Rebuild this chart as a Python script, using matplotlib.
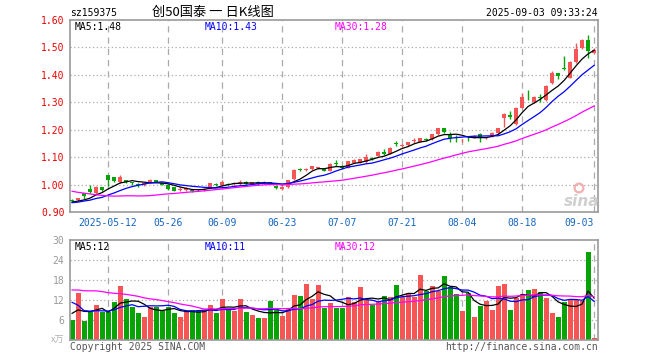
import matplotlib
matplotlib.use('Agg')
import matplotlib.pyplot as plt
import numpy as np
import pandas as pd

# ---------------- data ----------------
opens = [0.945, 0.942, 0.968, 0.985, 0.970, 0.990, 1.034, 1.026, 1.010, 1.016,
         1.008, 1.003, 1.000, 1.009, 1.015, 1.006, 0.998, 0.990, 0.982, 0.982,
         0.982, 0.981, 0.980, 0.989, 1.003, 0.998, 1.002, 1.001, 1.002, 1.010,
         1.003, 1.010, 1.004, 1.009, 0.995, 0.984, 0.990, 1.020, 1.057, 1.054,
         1.056, 1.060, 1.057, 1.050, 1.080, 1.068, 1.061, 1.080, 1.080, 1.083,
         1.097, 1.105, 1.118, 1.113, 1.150, 1.140, 1.145, 1.158, 1.156, 1.167,
         1.165, 1.184, 1.205, 1.185, 1.175, 1.161, 1.175, 1.170, 1.185, 1.169,
         1.175, 1.188, 1.244, 1.255, 1.220, 1.280, 1.320, 1.300, 1.318, 1.310,
         1.370, 1.405, 1.426, 1.390, 1.448, 1.497, 1.528, 1.480]
closes = [0.940, 0.950, 0.960, 0.973, 0.990, 0.981, 1.016, 1.014, 1.028, 1.010,
          1.004, 0.998, 1.004, 1.016, 1.010, 1.000, 0.984, 0.977, 0.985, 0.986,
          0.978, 0.979, 0.985, 1.004, 0.998, 1.010, 1.000, 1.007, 1.010, 1.002,
          1.008, 1.003, 1.010, 1.005, 0.988, 0.990, 1.016, 1.053, 1.053, 1.056,
          1.067, 1.062, 1.050, 1.075, 1.074, 1.062, 1.085, 1.090, 1.092, 1.100,
          1.093, 1.120, 1.112, 1.134, 1.147, 1.145, 1.155, 1.161, 1.168, 1.164,
          1.184, 1.205, 1.190, 1.168, 1.172, 1.164, 1.172, 1.178, 1.170, 1.171,
          1.188, 1.205, 1.258, 1.248, 1.280, 1.320, 1.318, 1.320, 1.315, 1.360,
          1.405, 1.395, 1.423, 1.448, 1.495, 1.528, 1.488, 1.490]
highs = [0.948, 0.952, 0.970, 0.998, 0.995, 0.992, 1.036, 1.028, 1.035, 1.018,
         1.010, 1.005, 1.006, 1.022, 1.017, 1.008, 1.000, 0.992, 0.990, 0.990,
         0.984, 0.983, 0.988, 1.006, 1.006, 1.016, 1.005, 1.010, 1.016, 1.012,
         1.010, 1.012, 1.012, 1.011, 0.997, 0.993, 1.018, 1.055, 1.060, 1.060,
         1.069, 1.064, 1.060, 1.077, 1.088, 1.072, 1.087, 1.093, 1.095, 1.110,
         1.100, 1.123, 1.128, 1.136, 1.160, 1.148, 1.157, 1.168, 1.170, 1.168,
         1.186, 1.208, 1.207, 1.192, 1.180, 1.166, 1.177, 1.180, 1.187, 1.173,
         1.190, 1.208, 1.260, 1.268, 1.282, 1.335, 1.345, 1.322, 1.330, 1.362,
         1.413, 1.407, 1.470, 1.450, 1.515, 1.530, 1.545, 1.497]
lows = [0.936, 0.940, 0.949, 0.970, 0.965, 0.978, 0.994, 1.010, 1.005, 1.006,
        1.000, 0.990, 0.995, 1.006, 1.008, 0.998, 0.982, 0.975, 0.978, 0.978,
        0.972, 0.976, 0.978, 0.987, 0.996, 0.996, 0.997, 0.999, 1.000, 1.000,
        1.001, 1.000, 1.002, 1.003, 0.985, 0.980, 0.988, 1.017, 1.050, 1.048,
        1.054, 1.055, 1.048, 1.048, 1.068, 1.058, 1.059, 1.077, 1.078, 1.080,
        1.090, 1.103, 1.108, 1.111, 1.140, 1.137, 1.140, 1.150, 1.154, 1.160,
        1.163, 1.182, 1.188, 1.157, 1.155, 1.155, 1.160, 1.168, 1.155, 1.166,
        1.173, 1.186, 1.210, 1.238, 1.218, 1.278, 1.308, 1.298, 1.302, 1.305,
        1.368, 1.385, 1.418, 1.388, 1.445, 1.495, 1.460, 1.478]
volumes = [6.0, 14.2, 5.8, 8.5, 10.5, 8.5, 8.5, 11.5, 16.2, 12.3,
           10.0, 8.2, 7.0, 10.0, 10.0, 9.0, 10.0, 8.2, 7.0, 8.5,
           9.0, 9.0, 9.0, 10.5, 8.2, 12.3, 9.5, 8.7, 12.3, 8.5,
           7.5, 6.5, 6.5, 11.7, 9.0, 7.2, 9.7, 13.5, 13.2, 16.8,
           12.3, 16.5, 9.7, 11.0, 9.7, 9.7, 12.8, 11.5, 16.0, 12.0,
           10.5, 11.5, 13.2, 13.0, 16.5, 13.0, 14.2, 13.0, 19.5, 14.7,
           16.2, 14.7, 19.2, 15.8, 13.8, 8.7, 14.2, 6.8, 10.2, 11.7,
           9.0, 16.2, 16.8, 9.0, 12.5, 13.8, 15.0, 15.3, 14.4, 12.6,
           8.1, 6.8, 11.4, 12.0, 12.0, 11.7, 26.4, 0.7]
# estimated earlier sessions (off-chart) needed for the moving averages
prior_closes = [1.07, 1.05, 1.06, 1.08, 1.05, 1.06, 1.05,
                1.01, 0.99, 1.00, 1.02, 0.99, 0.99,
                0.95, 0.93, 0.92, 0.94, 0.92, 0.93, 0.92,
                0.93, 0.92, 0.94, 0.93, 0.94, 0.93, 0.94, 0.94, 0.93]
prior_volumes = [14, 13, 9, 11, 15, 18, 17, 20, 18, 19, 17, 21, 19, 16, 18, 20, 17, 19, 18, 18,
                 23, 22, 10, 9, 9, 9, 8, 9, 8]

tick_idx = [6, 16, 25, 35, 45, 55, 65, 75, 87]
tick_labels = ['2025-05-12', '05-26', '06-09', '06-23', '07-07', '07-21', '08-04', '08-18', '09-03']
price_ticks = [0.90, 1.00, 1.10, 1.20, 1.30, 1.40, 1.50, 1.60]
vol_ticks = [6, 12, 18, 24, 30]
ma_windows = [5, 10, 30]
ma_colors = ['#000000', '#0000ff', '#ff00ff']
price_ma_labels = ['MA5:1.48', 'MA10:1.43', 'MA30:1.28']
vol_ma_labels = ['MA5:12', 'MA10:11', 'MA30:12']
code_text = 'sz159375'
title_text = '创50国泰 一 日K线图'
time_text = '2025-09-03 09:33:24'

# ---------------- figure ----------------
W, H = 660, 360
fig = plt.figure(figsize=(6.6, 3.6), dpi=100)
fig.patch.set_facecolor('white')

def ax_rect(l, t, r, b):
    return [l / W, 1 - b / H, (r - l) / W, (b - t) / H]

ax = fig.add_axes(ax_rect(70, 20, 598, 212))
axv = fig.add_axes(ax_rect(70, 240, 598, 340))

RED = '#f65555'
GREEN = '#07a307'
GRID = '#aaaaaa'
SPINE = '#999999'
MONO = 'DejaVu Sans Mono'

n = len(closes)
x = np.arange(n)
o = np.array(opens); c = np.array(closes); h = np.array(highs); l = np.array(lows)
up = c >= o
cols = np.where(up, RED, GREEN)

all_c = pd.Series(prior_closes + closes)
all_v = pd.Series(prior_volumes + volumes)
k = len(prior_closes)

for a in (ax, axv):
    for s in a.spines.values():
        s.set_color(SPINE)
        s.set_linewidth(1.2)
    a.set_xlim(-0.35, n - 0.35)
    a.tick_params(length=0)
    for t in tick_idx:
        a.axvline(t, color=GRID, lw=0.9, ls=(0, (5, 4)), zorder=0)

# price panel
ax.set_ylim(0.90, 1.60)
for p in price_ticks[1:-1]:
    ax.axhline(p, color=GRID, lw=0.9, ls=(0, (1, 2)), zorder=0)

ax.vlines(x, l, h, colors=cols, lw=1.0, zorder=2)
body_b = np.minimum(o, c)
body_h = np.maximum(np.abs(c - o), 0.003)
ax.bar(x, body_h, bottom=body_b, width=0.78, color=cols, edgecolor=cols, lw=0.0, zorder=3)

for w, col in zip(ma_windows, ma_colors):
    ax.plot(x, all_c.rolling(w).mean().values[k:], color=col, lw=0.9, zorder=4)

ax.set_yticks(price_ticks)
ax.set_yticklabels(['%.2f' % p for p in price_ticks], color='#ee0000', fontsize=7, family=MONO)
ax.tick_params(axis='y', pad=4)
ax.set_xticks(tick_idx)
ax.set_xticklabels(tick_labels, color='#1565c0', fontsize=7, family=MONO)
ax.tick_params(axis='x', pad=4)
ax.get_xticklabels()[-1].set_horizontalalignment('right')

# volume panel
axv.set_ylim(0, 30)
for v in vol_ticks[:-1]:
    axv.axhline(v, color=GRID, lw=0.9, ls=(0, (1, 2)), zorder=0)
axv.bar(x, volumes, width=0.84, color=cols, lw=0, zorder=2)
for w, col in zip(ma_windows, ma_colors):
    axv.plot(x, all_v.rolling(w).mean().values[k:], color=col, lw=0.9, zorder=4)
axv.set_yticks(vol_ticks)
axv.set_yticklabels([str(v) for v in vol_ticks], color='#999999', fontsize=7, family=MONO)
axv.tick_params(axis='y', pad=4)
axv.set_xticks([])

# ---------------- texts ----------------
def ftext(px, py, s, **kw):
    fig.text(px / W, 1 - py / H, s, **kw)

ftext(70, 13, code_text, fontsize=7, family=MONO, va='center', ha='left')
ftext(213, 12, title_text, fontsize=9.5, family=['Noto Sans CJK SC', 'DejaVu Sans'], va='center', ha='center')
ftext(598, 13, time_text, fontsize=7, family=MONO, va='center', ha='right')

ma_x = [75, 205, 335]
for px, s, col in zip(ma_x, price_ma_labels, ma_colors):
    ftext(px, 27, s, fontsize=7, family=MONO, color=col, va='center', ha='left')
for px, s, col in zip(ma_x, vol_ma_labels, ma_colors):
    ftext(px, 247, s, fontsize=7, family=MONO, color=col, va='center', ha='left')

ftext(64, 340, 'x万', fontsize=6.5, family=['Noto Sans CJK SC', 'DejaVu Sans'], color='#b0b0b0', va='center', ha='right')
ftext(70, 347, 'Copyright 2025 SINA.COM', fontsize=7, family=MONO, color='#555555', va='center', ha='left')
ftext(598, 347, 'http://finance.sina.com.cn', fontsize=7, family=MONO, color='#555555', va='center', ha='right')

# sina watermark
ftext(582, 202, 'sina', fontsize=11, style='italic', weight='bold', color='#cfcfcf', va='center', ha='center')
ax.scatter([(579 - 70) / 528], [1 - (188 - 20) / 192], s=40, facecolors='none',
           edgecolors='#f3b0b0', linewidths=1.6, transform=ax.transAxes, clip_on=False, zorder=1)

fig.savefig('out.png', dpi=100, facecolor='white')
